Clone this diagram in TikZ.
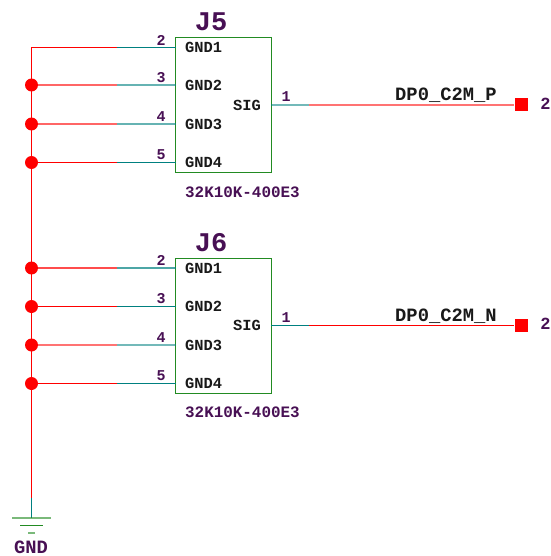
\documentclass[tikz,border=0pt]{standalone}
\usepackage{fontspec}
\setmainfont{Liberation Mono}
\definecolor{pinteal}{RGB}{0,128,128}
\definecolor{partgreen}{RGB}{34,139,34}
\definecolor{refpurple}{RGB}{72,16,84}
\tikzset{
	wire/.style={red,line width=1.6pt},
	lead/.style={pinteal,line width=1.6pt},
	partbox/.style={draw=partgreen,line width=1pt,outer sep=0pt,minimum width=96pt,minimum height=135pt,inner sep=0pt},
	pinname/.style={anchor=west,inner sep=0pt,text=black!90,font=\fontsize{15.4}{15.4}\selectfont\bfseries},
	pinnum/.style={inner sep=0pt,text=refpurple,font=\fontsize{15}{15}\selectfont\bfseries},
	refname/.style={inner sep=0pt,text=refpurple,font=\fontsize{27}{27}\selectfont\bfseries},
	partno/.style={anchor=west,inner sep=0pt,text=refpurple,font=\fontsize{15.9}{16}\selectfont\bfseries},
	netname/.style={anchor=west,inner sep=0pt,text=black!90,font=\fontsize{18.8}{19}\selectfont\bfseries},
	junction/.style={circle,fill=red,inner sep=0pt,minimum size=13pt},
	offpage/.style={rectangle,fill=red,inner sep=0pt,minimum size=13pt},
	groundbar/.style={partgreen,line width=1.3pt}
}
\begin{document}
\begin{tikzpicture}[x=1pt,y=-1pt]
		\useasboundingbox (0,0) rectangle (550,556);
		%the two connectors
		\node [partbox] (J5) at (223.5,105) {};
		\node [partbox] (J6) at (223.5,326) {};
		\node [refname] (J5ref) at (211,22) {J5};
		\node [refname] (J6ref) at (211,243) {J6};
		\node [partno] (J5part) at (185,192) {32K10K-400E3};
		\node [partno] (J6part) at (185,412) {32K10K-400E3};
		\coordinate (top) at (31.5,47.5);
		\coordinate (bottom) at (31.5,498);
		\coordinate (gnd) at (31.5,518);
		%ground pins of both parts, the last value is how strong the line looks
		\foreach \part/\n/\g/\y/\o in {J5/2/1/47.5/1, J5/3/2/85/.6, J5/4/3/124/.6, J5/5/4/162.5/1,
				J6/2/1/268/.7, J6/3/2/306.5/1, J6/4/3/345/.55, J6/5/4/383.5/1}
		{
			\coordinate (\part pin\n) at (176,\y);
			\coordinate (\part mid\n) at (117,\y);
			\coordinate (\part bus\n) at (31.5,\y);
			\draw [lead,draw opacity=\o] (\part pin\n) -- (\part mid\n);
			\draw [wire,draw opacity=\o] (\part mid\n) -- (\part bus\n);
			\node [pinname] (\part name\n) at (185,\y) {GND\g};
			\node [pinnum] (\part num\n) at (161,\y-7.5) {\n};
		}
		\draw [wire] (top) -- (bottom);
		\draw [lead] (bottom) -- (gnd);
		\foreach \part/\n in {J5/3, J5/4, J5/5, J6/2, J6/3, J6/4, J6/5}
			\node [junction] (\part dot\n) at (\part bus\n) {};
		%signal pins and nets
		\foreach \part/\net/\y/\o in {J5/P/105/.55, J6/N/325.5/1}
		{
			\coordinate (\part sig) at (271,\y);
			\coordinate (\part mid) at (309,\y);
			\node [offpage] (\part port) at (521,\y) {};
			\draw [lead,draw opacity=\o] (\part sig) -- (\part mid);
			\draw [wire,draw opacity=\o] (\part mid) -- (\part port);
			\node [pinname] (\part signame) at (233,\y) {SIG};
			\node [pinnum] (\part signum) at (286,\y-8) {1};
			\node [netname] (\part net) at (395,\y-9.5) {DP0\_C2M\_\net};
			\node [pinnum,font=\fontsize{17}{17}\selectfont\bfseries] (\part sheet) at (545.5,\y-1.5) {2};
		}
		%ground symbol
		\coordinate (bar1l) at (12,518);
		\coordinate (bar1r) at (51,518);
		\coordinate (bar2l) at (20,525.5);
		\coordinate (bar2r) at (43,525.5);
		\coordinate (bar3l) at (28,533);
		\coordinate (bar3r) at (35,533);
		\draw [groundbar,draw opacity=.6] (bar1l) -- (bar1r);
		\draw [groundbar] (bar2l) -- (bar2r);
		\draw [groundbar,draw opacity=.6] (bar3l) -- (bar3r);
		\node [pinnum,font=\fontsize{18.8}{19}\selectfont\bfseries] (gndname) at (31,547) {GND};
\end{tikzpicture}
\end{document}
